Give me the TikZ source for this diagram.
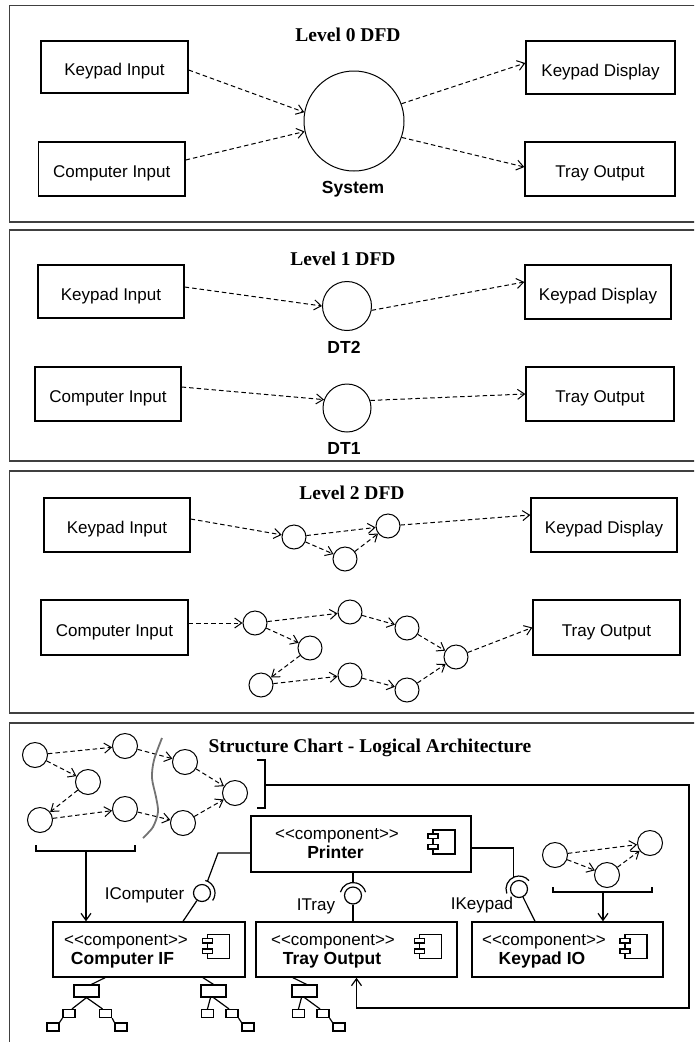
\documentclass[tikz,border=0pt]{standalone}
\usepackage{fontspec}
\setmainfont{Liberation Sans}
\newfontfamily\serifbold{Liberation Serif}
\usetikzlibrary{arrows.meta}
\newcommand\uisize{\fontsize{17}{20}\selectfont}
\newcommand\stereo{<\kern0pt<component>\kern0pt>}
\tikzset{
  panel/.style={draw=black!75, line width=1.8pt},
  ext/.style={draw=black, line width=1.3pt, rectangle, inner sep=0pt, font=\uisize,
    text height=17.2pt, text depth=0pt},
  proc/.style={draw=black, line width=1pt, circle, inner sep=0pt},
  flow/.style={draw=black, line width=1pt, dash pattern=on 4.5pt off 3pt,
    -{Straight Barb[length=7pt,width=10pt]}},
  heading/.style={font=\serifbold\bfseries\fontsize{19.5}{22}\selectfont, inner sep=0pt,
    text height=12.9pt, text depth=0pt},
  bold label/.style={font=\bfseries\fontsize{17.5}{20}\selectfont, inner sep=0pt,
    text height=12.5pt, text depth=0pt},
  plain label/.style={font=\uisize, inner sep=0pt, text height=12.2pt, text depth=0pt},
  link/.style={draw=black, line width=1.2pt},
  feed/.style={link, -{Straight Barb[length=7pt,width=10pt]}},
  comp/.style={draw=black, line width=1.4pt, rectangle, inner sep=0pt, minimum height=55pt},
  leaf/.style={draw=black, line width=1.2pt, rectangle, inner sep=0pt, fill=white,
    minimum width=12pt, minimum height=8pt},
  compicon/.pic={
    \draw[line width=1.1pt] (-11,-12) rectangle (11,12);
    \draw[line width=1.1pt, fill=white] (-16,-8) rectangle (-6,-3.5);
    \draw[line width=1.1pt, fill=white] (-16,2.5) rectangle (-6,7);
  }
}
\begin{document}
\begin{tikzpicture}[x=1pt, y=-1pt]
\useasboundingbox (0,0) rectangle (694,1042);
\fill[white] (0,0) rectangle (694,1042);
\clip (0,0) rectangle (694,1042);

% panel frames (open to the right)
\draw[panel] (9.5,5.5) rectangle (720,222);
\draw[panel] (9.5,230) rectangle (720,461);
\draw[panel] (9.5,471) rectangle (720,713);
\draw[panel] (9.5,723) rectangle (720,1090);

% ---------------- Level 0 ----------------
\node[heading] (h0) at (348,35) {Level 0 DFD};
\node[ext, minimum width=147pt, minimum height=52pt] (ki0) at (114.5,67) {Keypad Input};
\node[ext, minimum width=146.5pt, minimum height=54pt] (ci0) at (111.75,169) {Computer Input};
\node[proc, minimum size=100pt] (sys) at (354,121) {};
\node[bold label] (sysl) at (353,187) {System};
\node[ext, minimum width=149pt, minimum height=53pt] (kd0) at (600.5,67.5) {Keypad Display};
\node[ext, minimum width=150pt, minimum height=54pt] (to0) at (600,169) {Tray Output};
\draw[flow] ([yshift=-3pt]ki0.east) -- (sys.170);
\draw[flow] ([yshift=9pt]ci0.east) -- (sys.192);
\draw[flow] (sys.20) -- ([yshift=4.5pt]kd0.west);
\draw[flow] (sys.-19) -- ([yshift=2pt]to0.west);

% ---------------- Level 1 ----------------
\node[heading] (h1) at (343,259) {Level 1 DFD};
\node[ext, minimum width=146pt, minimum height=53pt] (ki1) at (111,291.5) {Keypad Input};
\node[proc, minimum size=49pt] (dt2) at (347,306) {};
\node[bold label] (dt2l) at (344,347) {DT2};
\node[ext, minimum width=146pt, minimum height=54pt] (kd1) at (598,292) {Keypad Display};
\node[ext, minimum width=146pt, minimum height=54pt] (ci1) at (108,394) {Computer Input};
\node[proc, minimum size=48pt] (dt1) at (347,408) {};
\node[bold label] (dt1l) at (344,448) {DT1};
\node[ext, minimum width=148pt, minimum height=54pt] (to1) at (600,394) {Tray Output};
\draw[flow] ([yshift=4.5pt]ki1.east) -- (dt2.west);
\draw[flow] (dt2.-10) -- ([yshift=10pt]kd1.west);
\draw[flow] ([yshift=7pt]ci1.east) -- (dt1.160);
\draw[flow] (dt1.18) -- (to1.west);

% ---------------- Level 2 ----------------
\node[heading] (h2) at (352,493) {Level 2 DFD};
\node[ext, minimum width=146pt, minimum height=54pt] (ki2) at (117,525) {Keypad Input};
\node[ext, minimum width=146pt, minimum height=54pt] (kd2) at (604,525) {Keypad Display};
\node[ext, minimum width=147pt, minimum height=55pt] (ci2) at (114.5,627.5) {Computer Input};
\node[ext, minimum width=147pt, minimum height=55pt] (to2) at (606.5,627.5) {Tray Output};
\foreach \n/\x/\y in {a1/294/537, a2/388/526, a3/345/559,
    b1/255/623, b2/350/612, b3/407/628, b4/310/648,
    b5/261/685, b6/350/675, b7/407/690, b8/456/657}
  \node[proc, minimum size=24pt] (\n) at (\x,\y) {};
\draw[flow] ([yshift=6pt]ki2.east) -- (a1);
\draw[flow] (a1) -- (a2);
\draw[flow] (a1) -- (a3);
\draw[flow] (a3) -- (a2);
\draw[flow] (a2) -- ([yshift=10pt]kd2.west);
\draw[flow] ([yshift=4.5pt]ci2.east) -- (b1);
\draw[flow] (b1) -- (b2);
\draw[flow] (b2) -- (b3);
\draw[flow] (b3) -- (b8);
\draw[flow] (b1) -- (b4);
\draw[flow] (b4) -- (b5);
\draw[flow] (b5) -- (b6);
\draw[flow] (b6) -- (b7);
\draw[flow] (b7) -- (b8);
\draw[flow] (b8) -- (to2.west);

% ---------------- Structure chart ----------------
\node[heading] (h3) at (370,746) {Structure Chart - Logical Architecture};

% left process group, split by the boundary curve
\foreach \n/\x/\y in {c1/35/755, c2/125/746, c3/88/782, c4/40/820,
    c5/125/809, c6/185/762, c7/235/793, c8/183/823}
  \node[proc, minimum size=25pt] (\n) at (\x,\y) {};
\draw[flow] (c1) -- (c2);
\draw[flow] (c1) -- (c3);
\draw[flow] (c3) -- (c4);
\draw[flow] (c4) -- (c5);
\draw[flow] (c2) -- (c6);
\draw[flow] (c5) -- (c8);
\draw[flow] (c6) -- (c7);
\draw[flow] (c8) -- (c7);
\draw[black!55, line width=1.8pt] plot[smooth] coordinates
  {(162,738) (154,760) (152,778) (156,797) (158,812) (153,827) (143,838)};

% bracket under the left group
\coordinate (lbL) at (36,845);
\coordinate (lbLb) at (36,851);
\coordinate (lbRb) at (135,851);
\coordinate (lbR) at (135,845);
\coordinate (lbM) at (86,851);
\draw[link] (lbL) -- (lbLb) -- (lbRb) -- (lbR);

% bracket beside the right part, feeding back to the tray output
\coordinate (rbT) at (257,760);
\coordinate (rbTc) at (265,760);
\coordinate (rbBc) at (265,808);
\coordinate (rbB) at (257,808);
\coordinate (rbM) at (265,785);
\coordinate (fbA) at (689,785);
\coordinate (fbB) at (689,1008);
\draw[link] (rbT) -- (rbTc) -- (rbBc) -- (rbB);

% right process group
\node[proc, minimum size=25pt] (d1) at (555,855) {};
\node[proc, minimum size=25pt] (d2) at (650,843) {};
\node[proc, minimum size=25pt] (d3) at (607,875) {};
\draw[flow] (d1) -- (d2);
\draw[flow] (d1) -- (d3);
\draw[flow] (d3) -- (d2);
\coordinate (rgL) at (553,887);
\coordinate (rgLb) at (553,892);
\coordinate (rgRb) at (652,892);
\coordinate (rgR) at (652,887);
\coordinate (rgM) at (603,892);
\draw[link] (rgL) -- (rgLb) -- (rgRb) -- (rgR);

% components
\node[comp, minimum width=220pt, minimum height=56pt] (prn) at (361,844) {};
\node[plain label] (prns) at (337,833) {\stereo};
\node[bold label] (prnn) at (335.5,852) {Printer};
\pic at (444,842) {compicon};

\node[comp, minimum width=192pt] (cif) at (149,949.5) {};
\node[plain label] (cifs) at (126,939) {\stereo};
\node[bold label] (cifn) at (122.5,958) {Computer IF};
\pic at (218.5,946.5) {compicon};

\node[comp, minimum width=201pt] (tout) at (356.5,949.5) {};
\node[plain label] (touts) at (333,939) {\stereo};
\node[bold label] (toutn) at (332,958) {Tray Output};
\pic at (430.5,946.5) {compicon};

\node[comp, minimum width=191pt] (kio) at (567.5,949.5) {};
\node[plain label] (kios) at (544,939) {\stereo};
\node[bold label] (kion) at (542,958) {Keypad IO};
\pic at (636,946.5) {compicon};

\draw[feed] (lbM) -- (lbM |- cif.north);
\draw[feed] (rgM) -- (rgM |- kio.north);
\draw[feed] (rbM) -- (fbA) -- (fbB) -- (fbB -| tout.south) -- (tout.south);

% interfaces (ball and socket)
\node[proc, line width=1.2pt, minimum size=17pt] (icb) at (202,893) {};
\draw[link] (icb.center) ++(-75:13) arc[start angle=-75, end angle=35, radius=13];
\coordinate (icA) at (218,853);
\coordinate (icS) at (207.5,881.2);
\draw[link] ([yshift=-9pt]prn.west) -- (icA) -- (icS);
\draw[link] (icb) -- ([xshift=34pt]cif.north);
\node[plain label] (icl) at (144.5,893) {IComputer};

\node[proc, line width=1.2pt, minimum size=17pt] (itb) at (353,895.5) {};
\draw[link] (itb.center) ++(195:13) arc[start angle=195, end angle=345, radius=13];
\coordinate (itS) at (353,882.5);
\draw[link] ([xshift=-8pt]prn.south) -- (itS);
\draw[link] (itb) -- ([xshift=-3.5pt]tout.north);
\node[plain label] (itl) at (316,904) {ITray};

\node[proc, line width=1.2pt, minimum size=17pt] (ikb) at (519,889) {};
\draw[link] (ikb.center) ++(160:13) arc[start angle=160, end angle=320, radius=13];
\coordinate (ikA) at (513.5,848);
\coordinate (ikS) at (513.5,877.2);
\draw[link] ([yshift=-4pt]prn.east) -- (ikA) -- (ikS);
\draw[link] (ikb) -- ([xshift=-32.5pt]kio.north);
\node[plain label] (ikl) at (482,903) {IKeypad};

% module trees below the components
\node[leaf, minimum width=25pt, minimum height=12pt] (t1r) at (86.5,991) {};
\node[leaf] (t1a) at (69,1013.5) {};
\node[leaf] (t1b) at (105.5,1013.5) {};
\node[leaf] (t1c) at (53,1027) {};
\node[leaf] (t1d) at (121,1027) {};
\draw[link] ([xshift=-44pt]cif.south) -- ([xshift=5pt]t1r.north);
\draw[link] (t1r.south) -- ([xshift=3pt]t1a.north);
\draw[link] (t1r.south) -- ([xshift=-3pt]t1b.north);
\draw[link] (t1a.south west) -- (t1c.north east);
\draw[link] (t1b.south east) -- (t1d.north west);

\node[leaf, minimum width=25pt, minimum height=12pt] (t2r) at (213.5,991) {};
\node[leaf] (t2a) at (207.5,1013.5) {};
\node[leaf] (t2b) at (232,1013.5) {};
\node[leaf] (t2c) at (248,1027) {};
\draw[link] ([xshift=54pt]cif.south) -- (t2r.north);
\draw[link] ([xshift=-3pt]t2r.south) -- (t2a.north);
\draw[link] (t2r.south) -- ([xshift=-3pt]t2b.north);
\draw[link] (t2b.south east) -- (t2c.north west);

\node[leaf, minimum width=25pt, minimum height=12pt] (t3r) at (304.5,991) {};
\node[leaf] (t3a) at (298.5,1013.5) {};
\node[leaf] (t3b) at (323,1013.5) {};
\node[leaf] (t3c) at (339,1027) {};
\draw[link] ([xshift=-63.5pt]tout.south) -- ([xshift=2pt]t3r.north);
\draw[link] ([xshift=-3pt]t3r.south) -- (t3a.north);
\draw[link] (t3r.south) -- ([xshift=-3pt]t3b.north);
\draw[link] (t3b.south east) -- (t3c.north west);
\end{tikzpicture}
\end{document}
